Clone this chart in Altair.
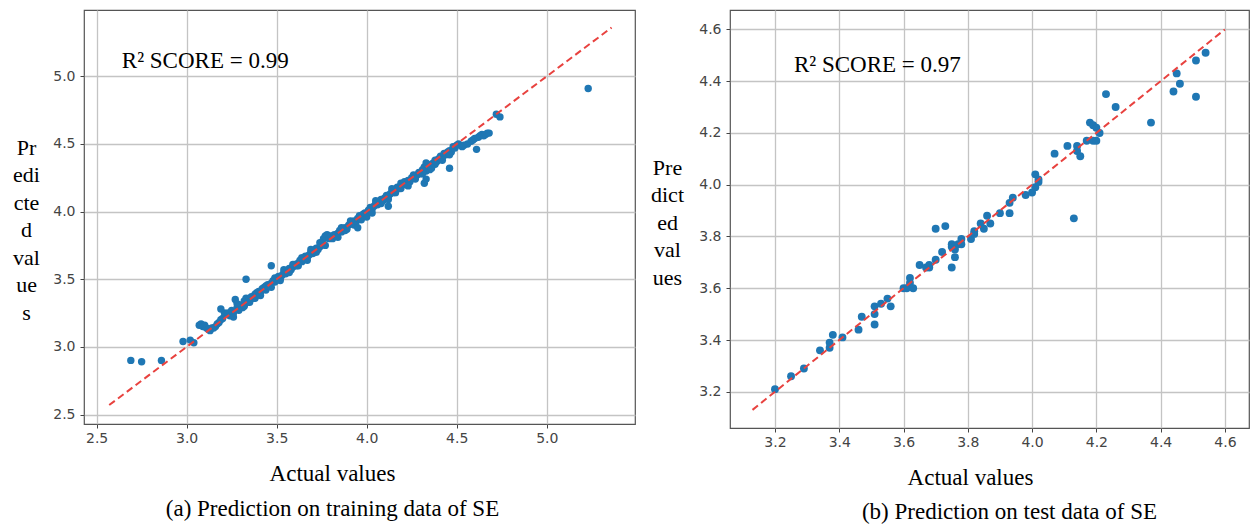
import altair as alt
import pandas as pd

# ---------------- panel (a): training data ----------------
train_actual = [
    2.69, 2.75, 2.86, 2.98, 3.02, 3.04,
    3.07, 3.08, 3.09, 3.10, 3.11, 3.12, 3.13, 3.14, 3.15, 3.16, 3.17, 3.18, 3.19, 3.20,
    3.19, 3.21, 3.22, 3.23, 3.24, 3.25, 3.26, 3.27, 3.28, 3.29, 3.30, 3.31, 3.32,
    3.33, 3.34, 3.35, 3.36, 3.37, 3.38, 3.39, 3.40, 3.41, 3.42, 3.43, 3.44, 3.45,
    3.26, 3.29, 3.32, 3.35, 3.38, 3.41, 3.44, 3.28,
    3.46, 3.47, 3.48, 3.49, 3.50, 3.51, 3.52, 3.53, 3.54, 3.55, 3.56, 3.57, 3.58,
    3.59, 3.60, 3.61, 3.62, 3.63, 3.64, 3.65, 3.66, 3.67, 3.68, 3.69, 3.70, 3.71,
    3.72, 3.73, 3.74, 3.75, 3.76, 3.77, 3.78, 3.79, 3.80,
    3.47, 3.52, 3.57, 3.62, 3.67, 3.72, 3.77, 3.49, 3.54, 3.59, 3.64, 3.69, 3.74,
    3.81, 3.82, 3.83, 3.84, 3.85, 3.86, 3.87, 3.88, 3.89, 3.90, 3.91, 3.92, 3.93,
    3.94, 3.95, 3.96, 3.97, 3.98, 3.99, 4.00, 4.01, 4.02, 4.03, 4.04, 4.05, 4.06,
    4.07, 4.08, 4.09, 4.10, 4.11, 4.12, 4.13, 4.14, 4.15, 4.16, 4.17, 4.18, 4.19, 4.20,
    3.84, 3.88, 3.93, 3.97, 4.00, 4.03, 4.08, 4.12, 4.16, 4.19, 3.86, 3.91, 4.05, 4.14,
    4.21, 4.22, 4.23, 4.24, 4.25, 4.26, 4.27, 4.28, 4.29, 4.30, 4.31, 4.32, 4.33,
    4.34, 4.35, 4.36, 4.37, 4.38, 4.39, 4.40, 4.41, 4.42, 4.43, 4.44, 4.45, 4.46,
    4.47, 4.48, 4.49, 4.50,
    4.23, 4.27, 4.31, 4.35, 4.38, 4.42, 4.46, 4.33, 4.36,
    4.51, 4.53, 4.54, 4.56, 4.58, 4.59, 4.60, 4.62, 4.63, 4.64, 4.65, 4.66, 4.67, 4.68,
    5.23, 3.33, 3.47, 4.72, 4.74, 4.46, 4.61, 4.32, 4.33, 4.12, 3.95,
]
train_pred = [
    2.90, 2.89, 2.90, 3.04, 3.05, 3.03,
    3.16, 3.17, 3.15, 3.16, 3.14, 3.13, 3.12, 3.14, 3.14, 3.15, 3.17, 3.18, 3.20, 3.21,
    3.28, 3.25, 3.24, 3.25, 3.23, 3.27, 3.25, 3.35, 3.29, 3.30, 3.31, 3.29, 3.34,
    3.36, 3.33, 3.36, 3.37, 3.36, 3.39, 3.40, 3.41, 3.40, 3.43, 3.44, 3.42, 3.46,
    3.22, 3.27, 3.30, 3.33, 3.36, 3.38, 3.45, 3.32,
    3.45, 3.47, 3.49, 3.48, 3.50, 3.52, 3.51, 3.53, 3.55, 3.54, 3.56, 3.58, 3.57,
    3.59, 3.61, 3.60, 3.62, 3.64, 3.63, 3.65, 3.67, 3.66, 3.68, 3.70, 3.69, 3.71,
    3.73, 3.72, 3.74, 3.77, 3.80, 3.82, 3.83, 3.80, 3.82,
    3.44, 3.49, 3.55, 3.60, 3.64, 3.70, 3.75, 3.51, 3.57, 3.61, 3.66, 3.72, 3.77,
    3.80, 3.83, 3.82, 3.84, 3.86, 3.85, 3.86, 3.88, 3.87, 3.90, 3.92, 3.91, 3.93,
    3.92, 3.95, 3.97, 3.96, 3.98, 3.99, 3.98, 4.01, 4.03, 4.02, 4.04, 4.06, 4.05,
    4.07, 4.09, 4.08, 4.10, 4.12, 4.11, 4.13, 4.15, 4.14, 4.16, 4.18, 4.17, 4.21, 4.20,
    3.81, 3.86, 3.90, 3.94, 3.96, 3.99, 4.06, 4.09, 4.14, 4.17, 3.88, 3.93, 4.08, 4.17,
    4.22, 4.20, 4.23, 4.22, 4.25, 4.27, 4.25, 4.27, 4.29, 4.28, 4.31, 4.33, 4.30,
    4.34, 4.33, 4.35, 4.36, 4.38, 4.37, 4.39, 4.41, 4.40, 4.43, 4.42, 4.44, 4.45,
    4.44, 4.48, 4.47, 4.49,
    4.19, 4.24, 4.28, 4.31, 4.35, 4.38, 4.42, 4.36, 4.32,
    4.50, 4.48, 4.49, 4.50, 4.52, 4.53, 4.54, 4.55, 4.56, 4.57, 4.56, 4.57, 4.58, 4.58,
    4.91, 3.50, 3.60, 4.72, 4.70, 4.32, 4.46, 4.21, 4.24, 4.04, 3.88,
]

# ---------------- panel (b): test data ----------------
test_actual = [
    3.20, 3.25, 3.29, 3.34, 3.37, 3.37, 3.38, 3.41, 3.46, 3.47,
    3.51, 3.51, 3.51, 3.53, 3.55, 3.56, 3.60, 3.61, 3.62, 3.62,
    3.63, 3.65, 3.67, 3.68, 3.68, 3.70, 3.73, 3.70, 3.72, 3.75,
    3.75, 3.75, 3.76, 3.76, 3.77, 3.78, 3.78, 3.81, 3.82, 3.82,
    3.84, 3.85, 3.86, 3.87, 3.90, 3.93, 3.93, 3.94, 3.98, 4.00,
    4.01, 4.01, 4.02, 4.02, 4.07, 4.11, 4.13, 4.14, 4.14, 4.15,
    4.17, 4.18, 4.19, 4.19, 4.20, 4.20, 4.21, 4.23, 4.26, 4.37,
    4.44, 4.45, 4.46, 4.51, 4.51, 4.54,
]
test_pred = [
    3.21, 3.26, 3.29, 3.36, 3.39, 3.37, 3.42, 3.41, 3.44, 3.49,
    3.50, 3.53, 3.46, 3.54, 3.56, 3.53, 3.60, 3.60, 3.62, 3.64,
    3.60, 3.69, 3.68, 3.68, 3.69, 3.83, 3.84, 3.71, 3.74, 3.76,
    3.77, 3.68, 3.72, 3.75, 3.77, 3.79, 3.77, 3.79, 3.81, 3.82,
    3.85, 3.83, 3.88, 3.85, 3.89, 3.93, 3.89, 3.95, 3.96, 3.97,
    3.99, 4.04, 4.02, 4.01, 4.12, 4.15, 3.87, 4.15, 4.13, 4.11,
    4.17, 4.24, 4.23, 4.17, 4.22, 4.17, 4.20, 4.35, 4.30, 4.24,
    4.36, 4.43, 4.39, 4.34, 4.48, 4.51,
]

# reference (identity) lines and axes
train_line = [2.57, 5.36]
test_line = [3.13, 4.60]
train_domain = [2.43, 5.49]
test_domain = [3.06, 4.675]
train_ticks = [2.5, 3.0, 3.5, 4.0, 4.5, 5.0]
test_ticks = [3.2, 3.4, 3.6, 3.8, 4.0, 4.2, 4.4, 4.6]

# annotation texts
score_texts = ["R² SCORE = 0.99", "R² SCORE = 0.97"]
score_train_xy = [2.64, 5.065]
score_test_xy = [3.259, 4.435]
y_title_train = ["Pr", "edi", "cte", "d", "val", "ue", "s"]
y_title_test = ["Pre", "dict", "ed", "val", "ues"]
x_title = "Actual values"
captions = ["(a) Prediction on training data of SE",
            "(b) Prediction on test data of SE"]

SERIF = "Liberation Serif"
POINT_COLOR = "#1f77b4"
LINE_COLOR = "#e8423f"


def panel(actual, pred, line, domain, ticks, score, score_xy, ytitle,
          ytx, yty, xtx, xty, caption, cap_dx, cap_off, w, h, size):
    pts = pd.DataFrame({"a": actual, "p": pred})
    ln = pd.DataFrame({"a": line, "p": line})
    txt = pd.DataFrame({"a": [score_xy[0]], "p": [score_xy[1]], "t": [score]})

    xscale = alt.Scale(domain=domain, nice=False, zero=False)
    yscale = alt.Scale(domain=domain, nice=False, zero=False)
    xaxis = alt.Axis(values=ticks, format=".1f", title=x_title,
                     titleX=xtx, titleY=xty, titleAlign="center",
                     titleBaseline="middle", labelPadding=3,
                     titleFont=SERIF, titleFontSize=23,
                     titleFontWeight="normal", titleColor="black")
    yaxis = alt.Axis(values=ticks, format=".1f", title=ytitle,
                     titleAngle=0, titleAlign="center", titleBaseline="middle",
                     titleX=ytx, titleY=yty, titleLineHeight=27.5,
                     titleFont=SERIF, titleFontSize=22,
                     titleFontWeight="normal", titleColor="black",
                     labelPadding=5)

    enc = dict(x=alt.X("a:Q", scale=xscale, axis=xaxis),
               y=alt.Y("p:Q", scale=yscale, axis=yaxis))

    points = alt.Chart(pts).mark_circle(size=size, color=POINT_COLOR,
                                        opacity=1).encode(**enc)
    ref = alt.Chart(ln).mark_line(color=LINE_COLOR, strokeDash=[7, 4],
                                  strokeWidth=2).encode(**enc)
    note = alt.Chart(txt).mark_text(align="left", baseline="alphabetic",
                                    font=SERIF, fontSize=23,
                                    color="black").encode(text="t:N", **enc)
    return alt.layer(points, ref, note).properties(
        width=w, height=h,
        title=alt.TitleParams(caption, orient="bottom", anchor="middle",
                              frame="group", dx=cap_dx, offset=cap_off,
                              font=SERIF, fontSize=23, fontWeight="normal",
                              color="black"))


left = panel(train_actual, train_pred, train_line, train_domain, train_ticks,
             score_texts[0], score_train_xy, y_title_train,
             -58, 137, 248, 49, captions[0], -27, 13, 551, 414, 55)
right = panel(test_actual, test_pred, test_line, test_domain, test_ticks,
              score_texts[1], score_test_xy, y_title_test,
              -63, 157, 240, 49, captions[1], 20, 12, 519, 418, 62)

chart = alt.hconcat(left, right, spacing=95, bounds="flush").properties(
    padding={"left": 3, "top": 1, "right": 0, "bottom": 0},
    background="white"
).configure_view(
    stroke="#555555", strokeWidth=1.2
).configure_axis(
    labelFont="DejaVu Sans", labelFontSize=14, labelColor="#444444",
    tickColor="#444444", tickSize=4, domain=False,
    grid=True, gridColor="#c4c4c4", gridWidth=1.3,
    labelFlush=False, labelOverlap=False
)

chart.save("out.html", embed_options={"renderer": "svg", "actions": False})
